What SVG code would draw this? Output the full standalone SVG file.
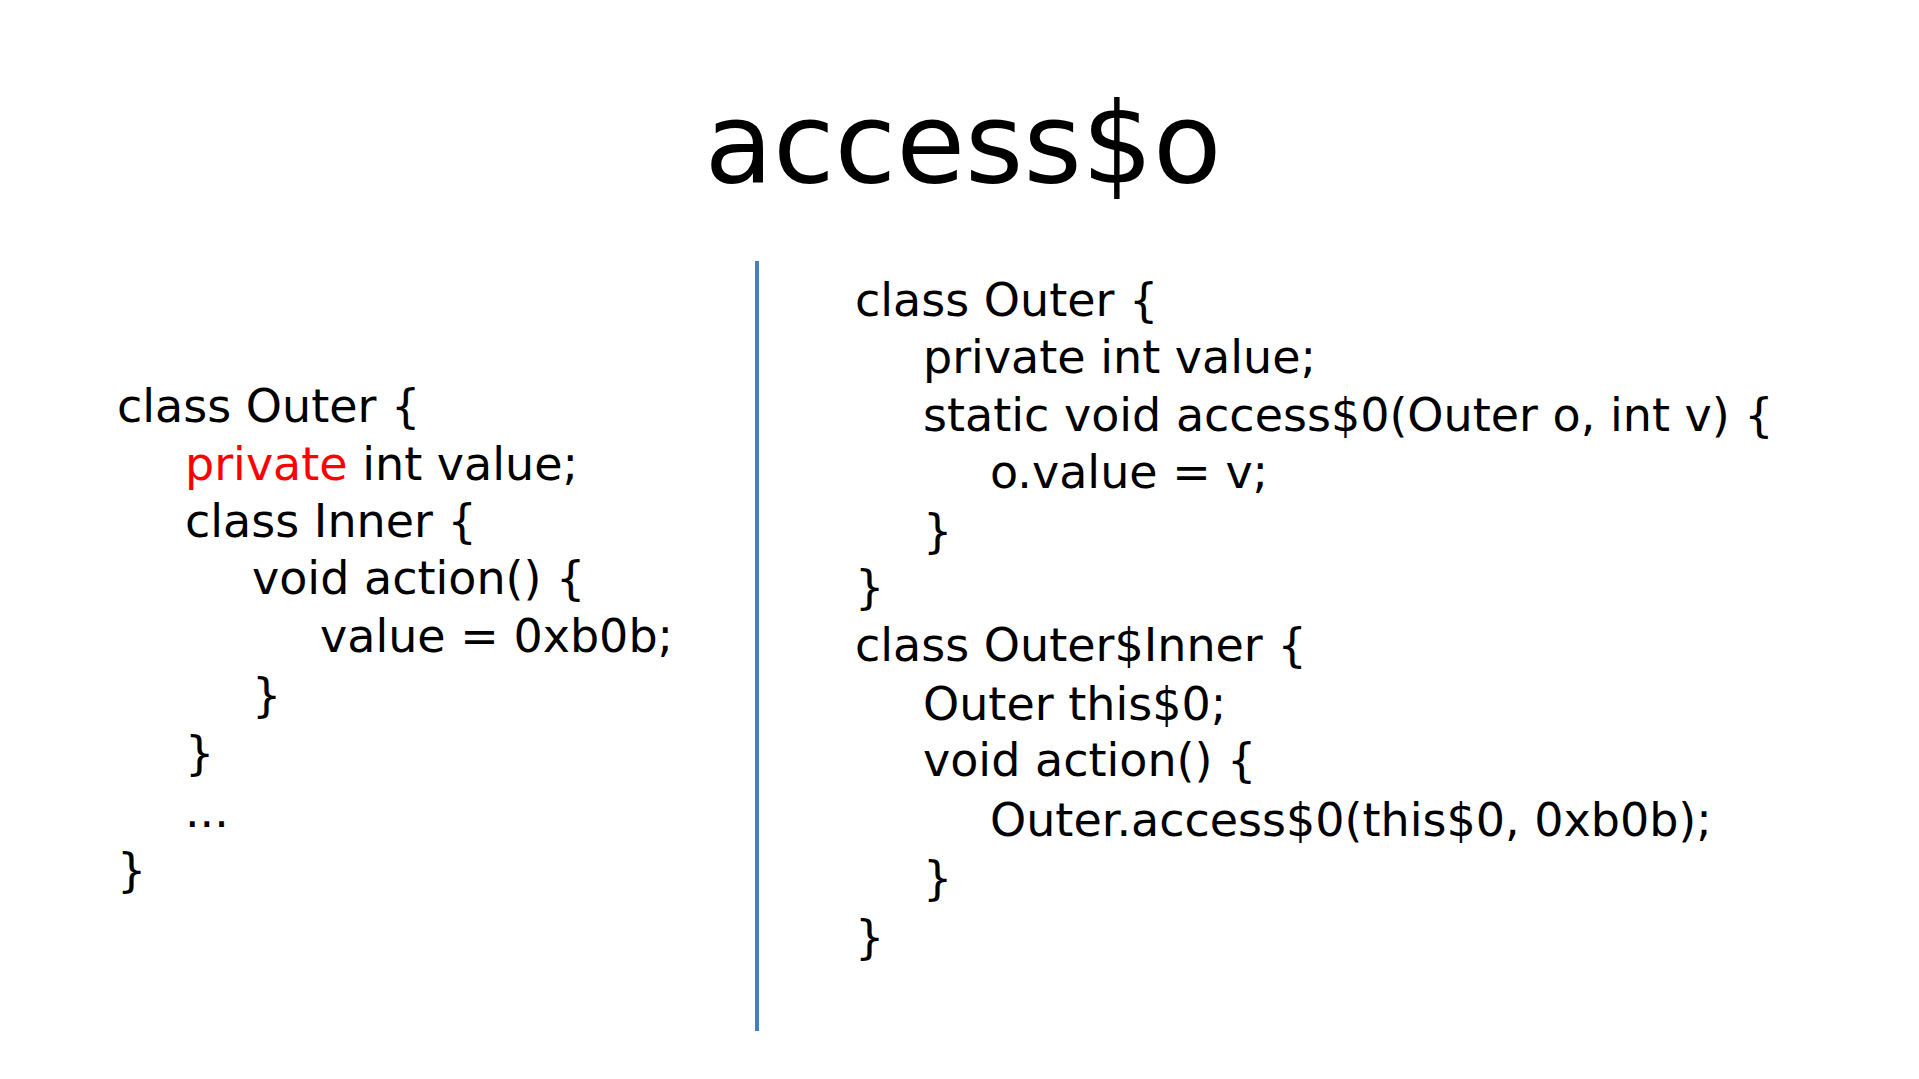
<svg xmlns="http://www.w3.org/2000/svg" width="1919" height="1079" viewBox="0 0 1919 1079">
<style>
.c{font-family:"DejaVu Sans","Verdana",sans-serif;font-size:46px;fill:#000;white-space:pre}
.t{font-family:"DejaVu Sans",sans-serif;font-size:112px;fill:#000}
.r{fill:#ff0000}
</style>
<rect width="1919" height="1079" fill="#fff"/>
<g id="title"><text class="t" x="963" y="182" text-anchor="middle">access$o</text></g>
<g id="divider"><line x1="757" y1="261" x2="757" y2="1031" stroke="#4a7ebb" stroke-width="4"/></g>
<g id="left">
<text class="c" x="117" y="422">class Outer {</text>
<text class="c" x="185" y="480"><tspan class="r">private</tspan> int value;</text>
<text class="c" x="185" y="537">class Inner {</text>
<text class="c" x="252" y="594">void action() {</text>
<text class="c" x="320" y="652">value = 0xb0b;</text>
<text class="c" x="252" y="711">}</text>
<text class="c" x="185" y="769">}</text>
<text class="c" x="185" y="827">...</text>
<text class="c" x="117" y="886">}</text>
</g>
<g id="right">
<text class="c" x="855" y="316">class Outer {</text>
<text class="c" x="923" y="373">private int value;</text>
<text class="c" x="923" y="431">static void access$0(Outer o, int v) {</text>
<text class="c" x="990" y="488">o.value = v;</text>
<text class="c" x="923" y="547">}</text>
<text class="c" x="855" y="603">}</text>
<text class="c" x="855" y="661">class Outer$Inner {</text>
<text class="c" x="923" y="720">Outer this$0;</text>
<text class="c" x="923" y="776">void action() {</text>
<text class="c" x="990" y="836">Outer.access$0(this$0, 0xb0b);</text>
<text class="c" x="923" y="894">}</text>
<text class="c" x="855" y="953">}</text>
</g>
</svg>
